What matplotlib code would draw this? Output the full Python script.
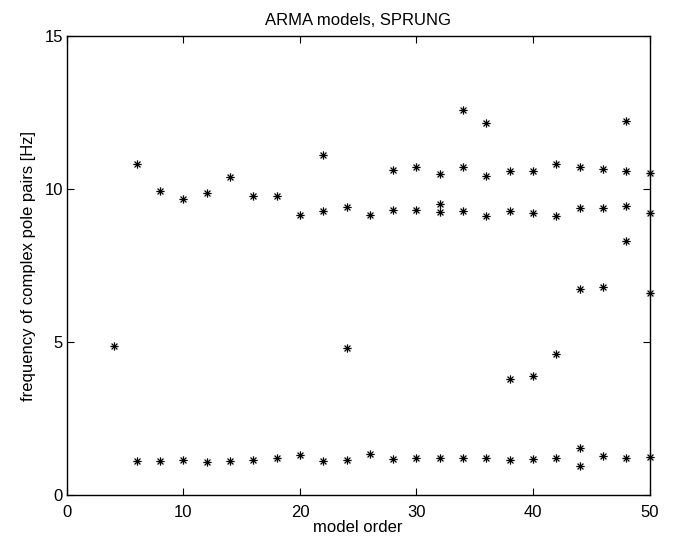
import matplotlib.pyplot as plt
from matplotlib.path import Path

order = [4,
         6, 6, 8, 8, 10, 10, 12, 12, 14, 14, 16, 16, 18, 18, 20, 20,
         22, 22, 22, 24, 24, 24, 26, 26,
         28, 28, 28, 30, 30, 30, 32, 32, 32, 32,
         34, 34, 34, 34, 36, 36, 36, 36, 38, 38, 38, 38,
         40, 40, 40, 40, 42, 42, 42, 42,
         44, 44, 44, 44, 44, 46, 46, 46, 46,
         48, 48, 48, 48, 48, 50, 50, 50, 50]
freq_hz = [4.88,
           10.81, 1.13, 9.94, 1.13, 9.69, 1.14, 9.89, 1.10, 10.40, 1.11,
           9.78, 1.15, 9.78, 1.20, 9.17, 1.31,
           11.11, 9.30, 1.12, 9.42, 4.80, 1.14, 9.17, 1.33,
           10.64, 9.31, 1.18, 10.71, 9.31, 1.23, 10.49, 9.51, 9.24, 1.20,
           12.60, 10.73, 9.30, 1.22, 12.15, 10.44, 9.12, 1.22, 10.58, 9.30, 3.80, 1.15,
           10.60, 9.23, 3.90, 1.17, 10.82, 9.12, 4.63, 1.22,
           10.73, 9.37, 6.75, 1.55, 0.96, 10.66, 9.40, 6.81, 1.27,
           12.23, 10.60, 9.46, 8.30, 1.21, 10.54, 9.23, 6.61, 1.26]

plt.rcParams['font.family'] = ['Liberation Sans', 'DejaVu Sans']

# matlab style asterisk: plus and cross on top of each other
d = 0.7071
asterisk = Path([(-1, 0), (1, 0), (0, -1), (0, 1), (-d, -d), (d, d), (-d, d), (d, -d)],
                [Path.MOVETO, Path.LINETO] * 4)

fig = plt.figure(figsize=(6.83, 5.4), dpi=100)
ax = fig.add_axes([0.098, 0.083, 0.853, 0.85])
ax.plot(order, freq_hz, linestyle='none', marker=asterisk, color='black',
        markersize=6, markeredgewidth=0.9, clip_on=False)

ax.set_xlim(0, 50)
ax.set_ylim(0, 15)
ax.set_xticks([0, 10, 20, 30, 40, 50])
ax.set_yticks([0, 5, 10, 15])
ax.tick_params(direction='in', top=True, right=True, length=5, labelsize=12, width=0.8)
ax.tick_params(axis='x', pad=7)
ax.tick_params(axis='y', pad=3)
for s in ax.spines.values():
    s.set_linewidth(1.0)

ax.set_title('ARMA models, SPRUNG', fontsize=12, pad=8)
ax.set_xlabel('model order', fontsize=12, labelpad=0)
ax.set_ylabel('frequency of complex pole pairs [Hz]', fontsize=12, labelpad=6)

fig.savefig('out.png', dpi=100)
